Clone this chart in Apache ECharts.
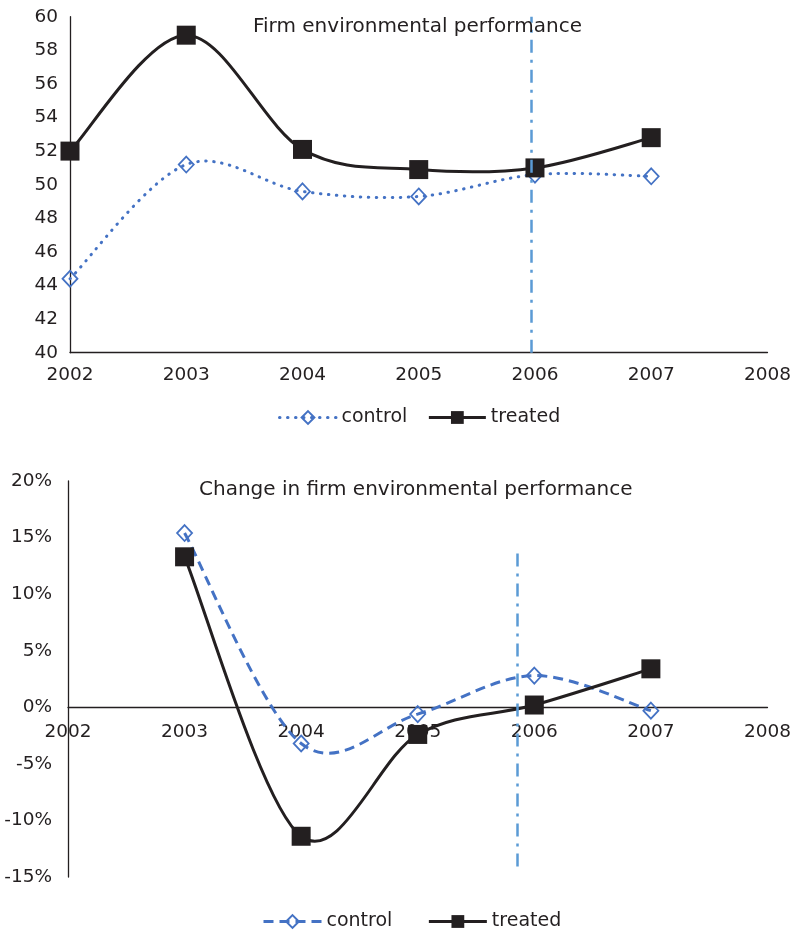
<!DOCTYPE html>
<html>
<head>
<meta charset="utf-8">
<script src="https://cdn.jsdelivr.net/npm/echarts@6/dist/echarts.min.js"></script>
<style>
html,body{margin:0;padding:0;background:#fff;}
#c1{position:absolute;left:0;top:0;width:794px;height:465px;}
#c2{position:absolute;left:0;top:465px;width:794px;height:465px;}
</style>
</head>
<body>
<div id="c1"></div>
<div id="c2"></div>
<script>
// ---- data ----
const years = [2002, 2003, 2004, 2005, 2006, 2007];
const levelControl = [44.4, 51.2, 49.6, 49.3, 50.6, 50.5];
const levelTreated = [52.0, 58.9, 52.1, 50.9, 51.0, 52.8];
const changeYears = [2003, 2004, 2005, 2006, 2007];
const changeControl = [15.4, -3.2, -0.6, 2.8, -0.3];
const changeTreated = [13.3, -11.4, -2.4, 0.2, 3.4];
const xTicks = [2002, 2008];
const levelTicks = [40, 60, 2];
const changeTicks = [-15, 20, 5];
const treatmentLineTop = 2005.97;
const treatmentLineBottom = 2005.85;
const treatmentBottomSpan = [13.6, -14.7];
const titleTop = 'Firm environmental performance';
const titleBottom = 'Change in firm environmental performance';

const FONT = 'DejaVu Sans';
const TXT = '#231F20';
const BLUE = '#4472C4';
const LBLUE = '#5B9BD5';

function pairs(xs, ys){ return xs.map((x,i)=>[x, ys[i]]); }

// Excel-like smoothed line (Catmull-Rom -> cubic Bezier) in pixel space
function crPath(p){
  let d = 'M' + p[0][0] + ' ' + p[0][1];
  for (let i = 0; i < p.length - 1; i++) {
    const a = p[i - 1] || p[i], b = p[i], c = p[i + 1], e = p[i + 2] || p[i + 1];
    const c1x = b[0] + (c[0] - a[0]) / 6, c1y = b[1] + (c[1] - a[1]) / 6;
    const c2x = c[0] - (e[0] - b[0]) / 6, c2y = c[1] - (e[1] - b[1]) / 6;
    d += ' C' + c1x + ' ' + c1y + ' ' + c2x + ' ' + c2y + ' ' + c[0] + ' ' + c[1];
  }
  return d;
}
function smoothSeries(xs, ys, style){
  return {
    type: 'custom', coordinateSystem: 'cartesian2d', silent: true, z: 1,
    data: [[xs[0], ys[0]]], encode: {x: 0, y: 1}, clip: false,
    renderItem: function(params, api){
      const pts = xs.map((x, i) => api.coord([x, ys[i]]));
      return {type: 'path', shape: {pathData: crPath(pts)},
        style: Object.assign({fill: 'none'}, style)};
    }
  };
}

const baseX = {
  type: 'value', min: xTicks[0], max: xTicks[1], interval: 1,
  axisTick: {show: false},
  splitLine: {show: false},
  axisLabel: {color: TXT, fontFamily: FONT, fontSize: 18.5, formatter: v => String(v)}
};
const axisLineStyle = {color: TXT, width: 1.3};
const ctlLegendTop = {name: 'control', lineStyle: {opacity: 1, color: BLUE, width: 3, type: [0.5, 7.5], cap: 'round'}};
const ctlLegendBottom = {name: 'control', lineStyle: {opacity: 1, color: BLUE, width: 3, type: [10, 6]}};
const trtLegend = {name: 'treated', lineStyle: {opacity: 1, color: TXT, width: 3, type: 'solid'}};

// ---- top chart ----
const ch1 = echarts.init(document.getElementById('c1'), null, {renderer: 'canvas'});
ch1.setOption({
  animation: false,
  title: {text: titleTop, left: 253, top: 17, padding: 0,
    textStyle: {fontFamily: FONT, fontSize: 20, fontWeight: 'normal', color: TXT}},
  grid: {left: 70, right: 26, top: 16.7, bottom: 112.3, containLabel: false},
  xAxis: Object.assign({}, baseX, {axisLine: {onZero: false, lineStyle: axisLineStyle},
    axisLabel: Object.assign({}, baseX.axisLabel, {margin: 13})}),
  yAxis: {type: 'value', min: levelTicks[0], max: levelTicks[1], interval: levelTicks[2],
    axisLine: {show: true, lineStyle: axisLineStyle},
    axisTick: {show: false}, splitLine: {show: false},
    axisLabel: {color: TXT, fontFamily: FONT, fontSize: 18.5, margin: 12}},
  legend: {left: 278, top: 408, padding: 0, itemWidth: 57, itemHeight: 16, itemGap: 20,
    textStyle: {fontFamily: FONT, fontSize: 19, color: TXT},
    data: [ctlLegendTop, trtLegend]},
  series: [
    smoothSeries(years, levelControl, {stroke: BLUE, lineWidth: 3, lineDash: [0.5, 7.5], lineCap: 'round'}),
    smoothSeries(years, levelTreated, {stroke: TXT, lineWidth: 3}),
    {name: 'control', type: 'line', data: pairs(years, levelControl), z: 3,
      symbol: 'diamond', symbolSize: [15, 16],
      lineStyle: {opacity: 0, color: BLUE},
      itemStyle: {color: 'rgba(255,255,255,0)', borderColor: BLUE, borderWidth: 1.8},
      markLine: {silent: true, symbol: 'none', label: {show: false},
        lineStyle: {color: LBLUE, width: 2.5, type: [13, 7, 3, 7], opacity: 1},
        data: [{xAxis: treatmentLineTop}]}},
    {name: 'treated', type: 'line', data: pairs(years, levelTreated), z: 4,
      symbol: 'rect', symbolSize: 19,
      lineStyle: {opacity: 0, color: TXT},
      itemStyle: {color: TXT}}
  ]
});

// ---- bottom chart ----
const g2 = {left: 68, right: 26, top: 16, bottom: 53};
const plotH2 = 465 - g2.top - g2.bottom;
// put the x axis (line and labels) at the 0% level
const zeroOffset = -(0 - changeTicks[0]) / (changeTicks[1] - changeTicks[0]) * plotH2;
const ch2 = echarts.init(document.getElementById('c2'), null, {renderer: 'canvas'});
ch2.setOption({
  animation: false,
  title: {text: titleBottom, left: 199, top: 15, padding: 0,
    textStyle: {fontFamily: FONT, fontSize: 20, fontWeight: 'normal', color: TXT}},
  grid: Object.assign({containLabel: false}, g2),
  xAxis: Object.assign({}, baseX, {offset: zeroOffset, axisLine: {onZero: false, lineStyle: axisLineStyle},
    axisLabel: Object.assign({}, baseX.axisLabel, {margin: 15})}),
  yAxis: {type: 'value', min: changeTicks[0], max: changeTicks[1], interval: changeTicks[2],
    axisLine: {show: true, onZero: false, lineStyle: axisLineStyle},
    axisTick: {show: false}, splitLine: {show: false},
    axisLabel: {color: TXT, fontFamily: FONT, fontSize: 18.5, margin: 16, formatter: v => v + '%'}},
  legend: {left: 262, top: 447, padding: 0, itemWidth: 58, itemHeight: 16, itemGap: 35,
    textStyle: {fontFamily: FONT, fontSize: 19, color: TXT},
    data: [ctlLegendBottom, trtLegend]},
  series: [
    smoothSeries(changeYears, changeControl, {stroke: BLUE, lineWidth: 3, lineDash: [10, 6]}),
    smoothSeries(changeYears, changeTreated, {stroke: TXT, lineWidth: 3}),
    {name: 'control', type: 'line', data: pairs(changeYears, changeControl), z: 3,
      symbol: 'diamond', symbolSize: [15, 16],
      lineStyle: {opacity: 0, color: BLUE},
      itemStyle: {color: 'rgba(255,255,255,0)', borderColor: BLUE, borderWidth: 1.8},
      markLine: {silent: true, symbol: 'none', label: {show: false},
        lineStyle: {color: LBLUE, width: 2.5, type: [13, 7, 3, 7], opacity: 1},
        data: [[{coord: [treatmentLineBottom, treatmentBottomSpan[0]]},
                {coord: [treatmentLineBottom, treatmentBottomSpan[1]]}]]}},
    {name: 'treated', type: 'line', data: pairs(changeYears, changeTreated), z: 4,
      symbol: 'rect', symbolSize: 19,
      lineStyle: {opacity: 0, color: TXT},
      itemStyle: {color: TXT}}
  ]
});
</script>
</body>
</html>
